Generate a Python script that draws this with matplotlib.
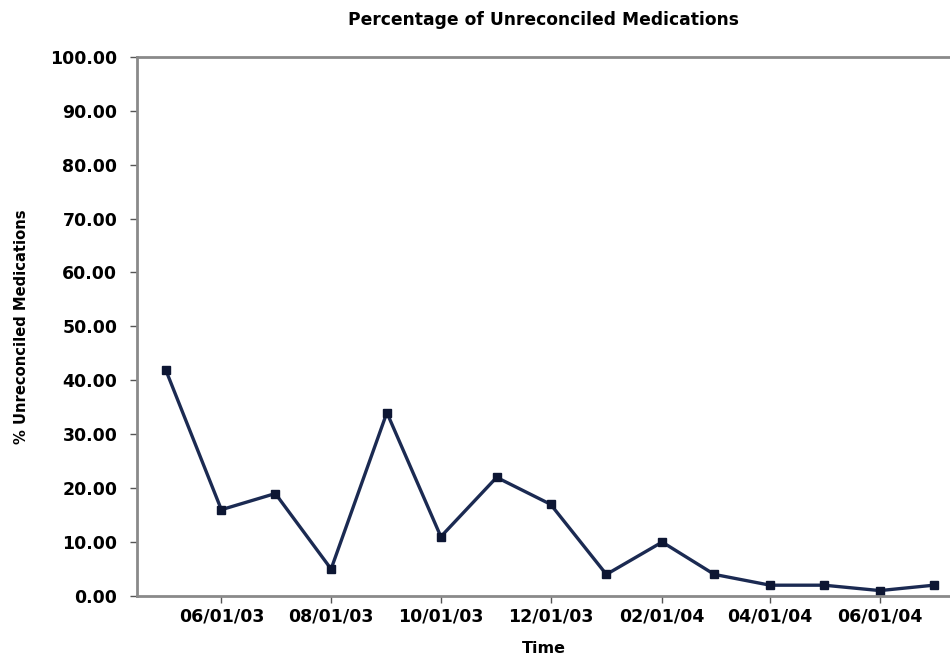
import numpy as np
import pandas as pd
import matplotlib.pyplot as plt
import matplotlib.dates as mdates

months = ["2003-05-01", "2003-06-01", "2003-07-01", "2003-08-01", "2003-09-01",
          "2003-10-01", "2003-11-01", "2003-12-01", "2004-01-01", "2004-02-01",
          "2004-03-01", "2004-04-01", "2004-05-01", "2004-06-01", "2004-07-01"]
pct = [42.0, 16.0, 19.0, 5.0, 34.0, 11.0, 22.0, 17.0, 4.0, 10.0, 4.0, 2.0, 2.0, 1.0, 2.0]
tick_dates = ["2003-06-01", "2003-08-01", "2003-10-01", "2003-12-01",
              "2004-02-01", "2004-04-01", "2004-06-01"]

x = pd.to_datetime(months)
plt.rcParams['font.family'] = ['DejaVu Sans']

fig = plt.figure(figsize=(9.5, 6.6), dpi=100)
ax = fig.add_axes([0.144, 0.097, 0.856, 0.817])

ax.plot(x, pct, color='#1b2a52', lw=2.4, marker='s', ms=6, mec='#0d1633', mfc='#0d1633')

ax.set_ylim(0, 100)
ax.set_yticks(np.arange(0, 101, 10))
ax.set_yticklabels([f"{v:.2f}" for v in np.arange(0, 101, 10)])
ax.set_xlim(pd.Timestamp("2003-04-15"), pd.Timestamp("2004-07-10"))
ax.set_xticks(pd.to_datetime(tick_dates))
ax.xaxis.set_major_formatter(mdates.DateFormatter('%m/%d/%y'))

for s in ['left', 'bottom', 'top']:
    ax.spines[s].set_color('#8a8a8a')
    ax.spines[s].set_linewidth(2)
ax.spines['right'].set_visible(False)
ax.tick_params(colors='#555555', length=5, width=1, labelcolor='black', labelsize=12.5)
ax.tick_params(axis='y', pad=9)
for t in ax.get_xticklabels() + ax.get_yticklabels():
    t.set_fontweight('bold')

ax.set_title("Percentage of Unreconciled Medications", fontsize=12.3, fontweight='bold', pad=23)
ax.set_xlabel("Time", fontsize=11.5, fontweight='bold', labelpad=11)
ax.set_ylabel("% Unreconciled Medications", fontsize=10.6, fontweight='bold', labelpad=15)

fig.savefig("out.png", dpi=100)
